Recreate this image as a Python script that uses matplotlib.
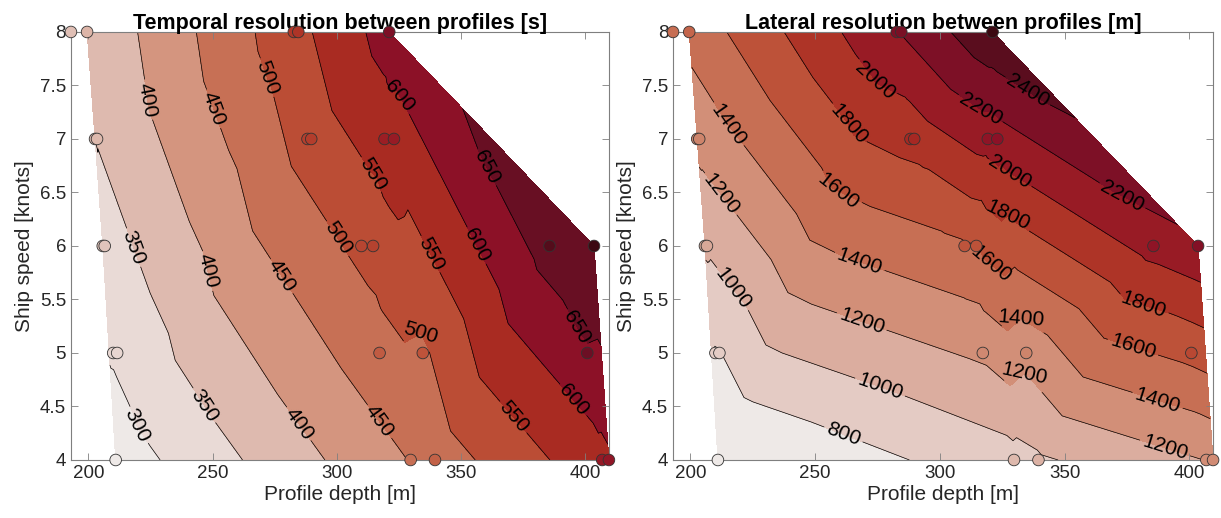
import numpy as np
import matplotlib
matplotlib.use('Agg')
import matplotlib.pyplot as plt
import matplotlib.tri as mtri
from matplotlib.colors import LinearSegmentedColormap, Normalize

plt.rcParams['font.family'] = ['Liberation Sans', 'DejaVu Sans']

# test profiles: depth [m], ship speed [knots]
depth = [193.0, 199.5, 282.7, 284.5, 321.1,
         202.7, 203.5, 288.2, 289.7, 319.2, 323.0,
         205.8, 206.6, 309.9, 314.6, 385.6, 403.5,
         210.0, 211.6, 317.2, 334.6, 400.8,
         211.0, 329.7, 339.5, 406.8, 409.5]
speed = [8, 8, 8, 8, 8,
         7, 7, 7, 7, 7, 7,
         6, 6, 6, 6, 6, 6,
         5, 5, 5, 5, 5,
         4, 4, 4, 4, 4]
# temporal resolution [s]
t_res = [342, 357, 533, 537, 622,
         350, 352, 521, 524, 576, 583,
         334, 336, 512, 517, 672, 700,
         305, 308, 480, 492, 645,
         273, 452, 473, 585, 592]
# lateral resolution [m]
l_res = [1407, 1469, 2193, 2210, 2560,
         1260, 1268, 1876, 1887, 2074, 2099,
         1031, 1037, 1580, 1595, 2074, 2160,
         784, 792, 1235, 1265, 1659,
         562, 930, 973, 1204, 1218]

t_levels = [300, 350, 400, 450, 500, 550, 600, 650]
l_levels = [800, 1000, 1200, 1400, 1600, 1800, 2000, 2200, 2400]

# where the contour labels sit (layout only)
t_labelpos = [(225, 7.37), (249, 7.27), (268, 7.54), (325, 7.4), (359, 6.72),
              (312, 6.61), (214, 5.95), (299, 6.05), (340, 5.95), (356, 6.0),
              (247, 5.76), (276, 5.69), (332, 5.47), (395, 5.22), (246, 4.5),
              (219, 4.31), (283, 4.31), (316, 4.34), (373, 4.44), (395, 4.56)]
l_labelpos = [(275, 7.56), (335, 7.44), (317, 7.3), (217, 7.17), (268, 7.19),
              (330, 6.77), (263, 6.69), (214, 6.52), (372, 6.42), (325, 6.36),
              (270, 6.0), (323, 5.9), (217, 5.6), (271, 5.45), (331, 5.42),
              (382, 5.48), (378, 5.1), (332, 4.89), (277, 4.75), (388, 4.61),
              (262, 4.28), (391, 4.17)]

# amp-like colormap
amp = LinearSegmentedColormap.from_list('amp', [
    (0.0, '#EEE9E7'), (0.063, '#E9DAD6'), (0.18, '#DEBAAF'), (0.30, '#D4947E'),
    (0.41, '#C87257'), (0.53, '#BC4E36'), (0.65, '#A92B22'), (0.77, '#8C1127'),
    (0.88, '#6A0F24'), (1.0, '#3C0912')])

fig = plt.figure(figsize=(12.21, 5.18), dpi=100)
ax1 = fig.add_axes([0.0581, 0.112, 0.4406, 0.8263])
ax2 = fig.add_axes([0.5512, 0.112, 0.4423, 0.8263])

x = np.array(depth)
y = np.array(speed)
tri = mtri.Triangulation(x, y)
# leave out the triangles hanging on the shallowest profile
tri.set_mask(np.any(tri.triangles == 0, axis=1))


def panel(ax, z, levels, labelpos, title):
    z = np.array(z, dtype=float)
    norm = Normalize(z.min(), z.max())
    lows = [z.min()] + list(levels)
    cols = [amp(norm(v)) for v in lows]
    bounds = [z.min() - 1] + list(levels) + [z.max() + 1]
    ax.tricontourf(tri, z, levels=bounds, colors=cols)
    cs = ax.tricontour(tri, z, levels=levels, colors='k', linewidths=0.5)
    ax.clabel(cs, fmt='%d', fontsize=15, inline=True, inline_spacing=3,
              manual=labelpos)
    ax.scatter(x, y, c=z, cmap=amp, norm=norm, s=70, edgecolors='#333333',
               linewidths=0.6, zorder=5, clip_on=False)
    ax.set_xlim(x.min(), x.max())
    ax.set_ylim(4, 8)
    ax.set_xticks([200, 250, 300, 350, 400])
    ax.set_yticks([4, 4.5, 5, 5.5, 6, 6.5, 7, 7.5, 8])
    ax.set_yticklabels(['4', '4.5', '5', '5.5', '6', '6.5', '7', '7.5', '8'])
    ax.tick_params(direction='in', length=5, width=0.6, color='#7f7f7f',
                   labelsize=13.5, labelcolor='#262626', top=True, right=True)
    for s in ax.spines.values():
        s.set_color('#7f7f7f')
        s.set_linewidth(0.8)
    ax.set_xlabel('Profile depth [m]', fontsize=15, color='#262626', labelpad=2)
    ax.set_ylabel('Ship speed [knots]', fontsize=15, color='#262626', labelpad=4)
    ax.set_title(title, fontsize=15.5, fontweight='bold', pad=2)


panel(ax1, t_res, t_levels, t_labelpos, 'Temporal resolution between profiles [s]')
panel(ax2, l_res, l_levels, l_labelpos, 'Lateral resolution between profiles [m]')

fig.savefig('out.png', dpi=100)
